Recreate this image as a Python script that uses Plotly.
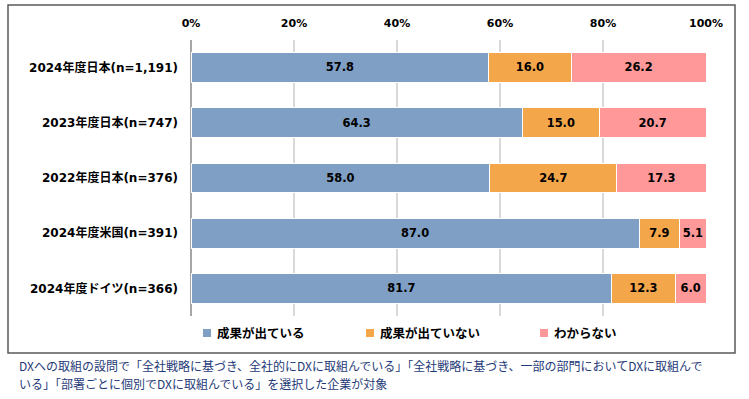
import plotly.graph_objects as go

categories = ["2024年度日本(n=1,191)", "2023年度日本(n=747)", "2022年度日本(n=376)",
              "2024年度米国(n=391)", "2024年度ドイツ(n=366)"]
series_names = ["成果が出ている", "成果が出ていない", "わからない"]
seika_ari = [57.8, 64.3, 58.0, 87.0, 81.7]
seika_nashi = [16.0, 15.0, 24.7, 7.9, 12.3]
wakaranai = [26.2, 20.7, 17.3, 5.1, 6.0]
tick_vals = [0, 20, 40, 60, 80, 100]
tick_text = ["0%", "20%", "40%", "60%", "80%", "100%"]
colors = ["#7F9FC4", "#F4A64A", "#FF9999"]
footnote = ["DXへの取組の設問で「全社戦略に基づき、全社的にDXに取組んでいる」「全社戦略に基づき、一部の部門においてDXに取組んで",
            "いる」「部署ごとに個別でDXに取組んでいる」を選択した企業が対象"]

FONT = "DejaVu Sans, Noto Sans CJK JP, sans-serif"
W, H = 749, 399
L, R, T, B = 191, 43, 40, 83
pw, ph = W - L - R, H - T - B

def px_x(x):
    return (x - L) / pw

def px_y(y):
    return 1 - (y - T) / ph

fig = go.Figure()
for name, vals, col in zip(series_names, [seika_ari, seika_nashi, wakaranai], colors):
    fig.add_trace(go.Bar(
        y=categories, x=vals, name=name, orientation="h",
        marker=dict(color=col, line=dict(color="white", width=1)),
        width=0.54,
        texttemplate="<b>%{x:.1f}</b>", textposition="inside", insidetextanchor="middle",
        textangle=0,
        textfont=dict(family=FONT, size=12, color="black"),
        hoverinfo="skip", showlegend=False,
    ))

fig.update_layout(
    barmode="stack",
    width=W, height=H,
    margin=dict(l=L, r=R, t=T, b=B, autoexpand=False),
    paper_bgcolor="white", plot_bgcolor="white",
    font=dict(family=FONT, color="black"),
    uniformtext=dict(mode="show", minsize=8),
    showlegend=False,
)
fig.update_xaxes(
    range=[0, 100], side="top", tickmode="array", tickvals=tick_vals,
    ticktext=["<b>%s</b>" % t for t in tick_text],
    showgrid=True, gridcolor="#D9D9D9", gridwidth=1.5,
    zeroline=True, zerolinecolor="#A6A6A6", zerolinewidth=1.5,
    tickfont=dict(family=FONT, size=11, color="black"), ticks="",
    ticklabelstandoff=10, fixedrange=True,
)
fig.update_yaxes(
    autorange="reversed", showgrid=False, ticks="",
    tickfont=dict(family=FONT, size=12, color="black"),
    ticklabelstandoff=12, fixedrange=True,
    tickmode="array", tickvals=categories, ticktext=["<b>%s</b>" % c for c in categories],
)
# outer frame
fig.add_shape(type="rect", xref="paper", yref="paper",
              x0=px_x(8), x1=px_x(735), y0=px_y(353), y1=px_y(5),
              line=dict(color="#595959", width=1.5), fillcolor="rgba(0,0,0,0)", layer="below")
# legend (manual)
legend_x = [203, 366, 540]
for name, col, lx in zip(series_names, colors, legend_x):
    fig.add_shape(type="rect", xref="paper", yref="paper",
                  x0=px_x(lx), x1=px_x(lx + 8), y0=px_y(337), y1=px_y(329),
                  line=dict(width=0), fillcolor=col)
    fig.add_annotation(text="<b>%s</b>" % name, xref="paper", yref="paper",
                       x=px_x(lx + 12), y=px_y(333), xanchor="left", yanchor="middle",
                       showarrow=False, font=dict(family=FONT, size=12.5, color="black"))
for i, line in enumerate(footnote):
    fig.add_annotation(text=line, xref="paper", yref="paper",
                       x=px_x(17), y=px_y(365 + i * 18), xanchor="left", yanchor="middle",
                       showarrow=False, font=dict(family="Noto Sans CJK JP", size=12, color="#1F3A78"))

fig.write_html("out.html", config={"displayModeBar": False},
               post_script="document.body.style.margin='0';document.body.style.overflow='hidden';")
